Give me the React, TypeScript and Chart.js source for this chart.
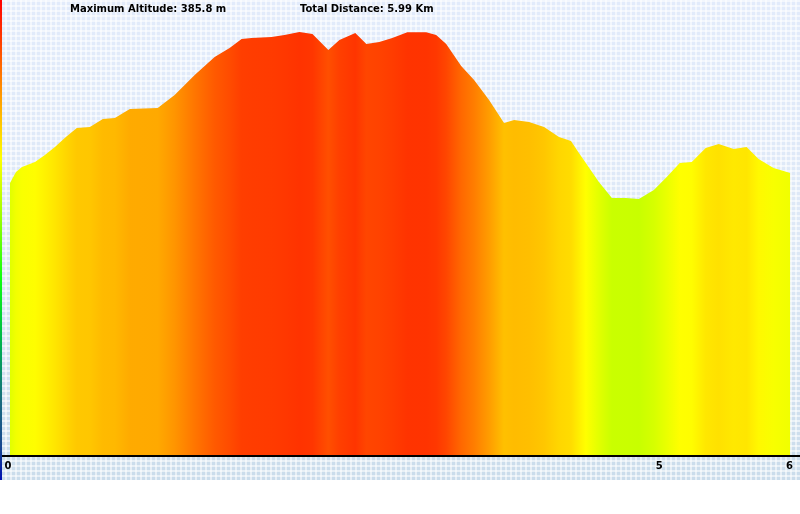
import React, { useEffect, useRef } from "react";
import { Chart, registerables } from "chart.js";

Chart.register(...registerables);

// Distance along the route (km)
const distances = [
  0.0, 0.046, 0.092, 0.192, 0.268, 0.345, 0.429, 0.513, 0.613, 0.713, 0.805,
  0.92, 1.134, 1.264, 1.418, 1.571, 1.686, 1.778, 1.854, 2.008, 2.107, 2.222,
  2.322, 2.444, 2.529, 2.651, 2.736, 2.835, 2.935, 3.05, 3.195, 3.272, 3.349,
  3.464, 3.563, 3.678, 3.793, 3.87, 3.985, 4.1, 4.215, 4.307, 4.368, 4.421,
  4.521, 4.621, 4.728, 4.828, 4.943, 5.042, 5.142, 5.234, 5.341, 5.441, 5.556,
  5.655, 5.747, 5.862, 5.99,
];

// Altitude (m)
const altitudes = [
  248.1, 258.1, 262.7, 267.2, 273.6, 280.9, 290.0, 298.2, 299.1, 306.4, 307.3,
  315.6, 316.5, 328.3, 346.6, 363.0, 371.2, 379.4, 380.3, 381.2, 383.0, 385.8,
  384.0, 369.4, 378.5, 384.9, 374.8, 376.7, 380.3, 385.5, 385.6, 383.0, 374.8,
  354.8, 342.0, 323.8, 302.8, 305.5, 303.7, 299.1, 290.0, 286.4, 275.4, 266.3,
  249.0, 234.4, 234.4, 233.5, 241.7, 253.5, 266.3, 267.2, 280.0, 283.6, 279.1,
  280.9, 270.0, 261.7, 257.2,
];

const shownTicks = [0, 5, 6];
const maxAltitudeText = "Maximum Altitude: 385.8 m";
const totalDistanceText = "Total Distance: 5.99 Km";

const FONT = "bold 10px 'DejaVu Sans'";

function altColor(alt: number, min: number, max: number): string {
  const t = (max - alt) / (max - min);
  const h = 12 + t * 61;
  return `hsl(${h.toFixed(1)},100%,50%)`;
}

const backgroundPlugin = {
  id: "bgPattern",
  beforeDraw(chart: any) {
    const { ctx, width, height } = chart;
    ctx.save();
    ctx.fillStyle = "#ffffff";
    ctx.fillRect(0, 0, width, height);
    const g = ctx.createLinearGradient(0, 0, 0, height);
    g.addColorStop(0, "#e2ebfb");
    g.addColorStop(0.5, "#dde8f6");
    g.addColorStop(1, "#cadceb");
    ctx.fillStyle = g;
    ctx.fillRect(0, 0, width, height);
    ctx.fillStyle = "rgba(255,255,255,0.55)";
    for (let x = 0; x < width; x += 5) ctx.fillRect(x, 0, 2, height);
    for (let y = 0; y < height; y += 5) ctx.fillRect(0, y, width, 2);
    ctx.restore();
  },
  afterDraw(chart: any) {
    const { ctx, width, height } = chart;
    const xScale = chart.scales.x;
    ctx.save();
    ctx.fillStyle = "#000";
    ctx.fillRect(0, Math.round(xScale.top), width, 2);
    const rb = ctx.createLinearGradient(0, 0, 0, height);
    rb.addColorStop(0, "#ff0000");
    rb.addColorStop(0.08, "#ff3a00");
    rb.addColorStop(0.2, "#ff9a00");
    rb.addColorStop(0.33, "#ffff00");
    rb.addColorStop(0.45, "#a0ff00");
    rb.addColorStop(0.58, "#10ff10");
    rb.addColorStop(0.72, "#00b050");
    rb.addColorStop(0.84, "#1a6a80");
    rb.addColorStop(0.93, "#184890");
    rb.addColorStop(1, "#0010b0");
    ctx.fillStyle = rb;
    ctx.fillRect(0, 0, 2, height);
    ctx.fillStyle = "#000";
    ctx.font = FONT;
    ctx.textBaseline = "alphabetic";
    ctx.textAlign = "left";
    ctx.fillText(maxAltitudeText, 70, 12);
    ctx.fillText(totalDistanceText, 300, 12);
    ctx.restore();
  },
};

export default function App() {
  const canvasRef = useRef<HTMLCanvasElement | null>(null);

  useEffect(() => {
    const canvas = canvasRef.current;
    if (!canvas) return;
    const minAlt = Math.min(...altitudes);
    const maxAlt = Math.max(...altitudes);

    const chart = new Chart(canvas, {
      type: "line",
      data: {
        datasets: [
          {
            data: distances.map((d, i) => ({ x: d, y: altitudes[i] })),
            fill: "origin",
            borderWidth: 0,
            borderColor: "rgba(0,0,0,0)",
            pointRadius: 0,
            tension: 0,
            backgroundColor: (c: any) => {
              const ch = c.chart;
              const area = ch.chartArea;
              if (!area) return "#ffcc00";
              const xs = ch.scales.x;
              const x0 = xs.getPixelForValue(distances[0]);
              const x1 = xs.getPixelForValue(distances[distances.length - 1]);
              const g = ch.ctx.createLinearGradient(x0, 0, x1, 0);
              distances.forEach((d, i) => {
                const off = (xs.getPixelForValue(d) - x0) / (x1 - x0);
                g.addColorStop(Math.min(1, Math.max(0, off)), altColor(altitudes[i], minAlt, maxAlt));
              });
              return g;
            },
          },
        ],
      },
      options: {
        responsive: false,
        animation: false,
        devicePixelRatio: 1,
        layout: { padding: { left: 10, right: 6, top: 0, bottom: 0 } },
        plugins: {
          legend: { display: false },
          tooltip: { enabled: false },
          title: { display: false },
        },
        scales: {
          x: {
            type: "linear",
            min: 0,
            max: 6,
            afterFit: (s: any) => {
              s.height = 25;
            },
            grid: { display: false, drawTicks: false },
            border: { display: false },
            ticks: {
              stepSize: 1,
              autoSkip: false,
              maxRotation: 0,
              padding: 5,
              labelOffset: -2,
              color: "#000",
              font: { family: "'DejaVu Sans'", size: 10, weight: "bold" },
              callback: (v: any) => (shownTicks.includes(Number(v)) ? String(v) : ""),
            },
          },
          y: {
            display: false,
            min: 0,
            max: 415,
          },
        },
      },
      plugins: [backgroundPlugin],
    } as any);

    return () => chart.destroy();
  }, []);

  return (
    <canvas
      ref={canvasRef}
      width={800}
      height={480}
      style={{ position: "absolute", left: 0, top: 0, display: "block" }}
    />
  );
}
